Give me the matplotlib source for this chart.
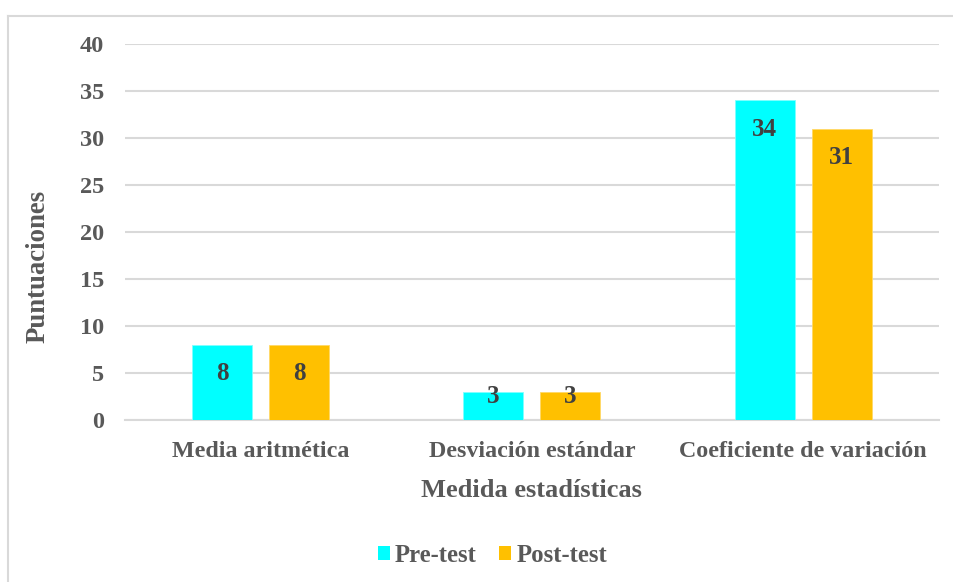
import matplotlib
matplotlib.use("Agg")
import matplotlib.pyplot as plt
import numpy as np
from matplotlib.patches import Patch
from matplotlib.lines import Line2D

categories = ["Media aritmética", "Desviación estándar", "Coeficiente de variación"]
pre_test = [8, 3, 34]
post_test = [8, 3, 31]
series_names = ["Pre-test", "Post-test"]
y_ticks = [0, 5, 10, 15, 20, 25, 30, 35, 40]

CYAN = "#00FFFF"
ORANGE = "#FFC000"
TEXT = "#595959"
LABEL = "#404040"
GRID = "#D9D9D9"

plt.rcParams["font.family"] = ["Liberation Serif", "DejaVu Serif"]
plt.rcParams["font.weight"] = "bold"

fig = plt.figure(figsize=(9.54, 5.82), dpi=100)
ax = fig.add_axes([0.131, 0.2784, 0.853, 0.646])

x = np.arange(len(categories))
width = 0.221
offset = 0.142

bars_pre = ax.bar(x - offset, pre_test, width, color=CYAN, edgecolor="#7FFFFF",
                  linewidth=0.6, zorder=3)
bars_post = ax.bar(x + offset, post_test, width, color=ORANGE, edgecolor="#FFD966",
                   linewidth=0.6, zorder=3)

# value labels at the inside end of each bar, kept above the baseline for short bars
for bars, vals in ((bars_pre, pre_test), (bars_post, post_test)):
    for b, v in zip(bars, vals):
        ypos = max(v - 3.1, 2.5)
        ax.text(b.get_x() + b.get_width() / 2, ypos, f"{v}", ha="center", va="center",
                fontsize=18, fontweight="bold", color=LABEL, zorder=4)

ax.set_ylim(0, 40)
ax.set_xlim(-0.5, len(categories) - 0.5)
ax.set_yticks(y_ticks)
ax.set_yticklabels([str(t) for t in y_ticks])
ax.set_xticks(x)
ax.set_xticklabels(categories)
ax.yaxis.grid(True, color=GRID, linewidth=1.5, zorder=0)
ax.set_axisbelow(True)
for s in ("top", "right", "left"):
    ax.spines[s].set_visible(False)
ax.spines["bottom"].set_color(GRID)
ax.spines["bottom"].set_linewidth(1.5)
ax.tick_params(axis="both", length=0, labelcolor=TEXT)
ax.tick_params(axis="y", pad=15, labelsize=17.5)
ax.tick_params(axis="x", pad=15.5, labelsize=17.3)
for lbl in ax.get_xticklabels() + ax.get_yticklabels():
    lbl.set_fontweight("bold")

ax.set_xlabel("Medida estadísticas", fontsize=19, fontweight="bold", color=TEXT, labelpad=12)
fig.text(0.040, 0.543, "Puntuaciones", rotation=90, ha="center", va="center",
         fontsize=19.3, fontweight="bold", color=TEXT)

handles = [Patch(facecolor=CYAN, edgecolor="none"), Patch(facecolor=ORANGE, edgecolor="none")]
fig.legend(handles, series_names, loc="center", bbox_to_anchor=(0.516, 0.046), ncol=2,
           frameon=False, handlelength=0.5, handleheight=0.5,
           handletextpad=0.2, columnspacing=0.9, labelcolor=TEXT,
           prop={"weight": "bold", "size": 17.8})

# chart-area border: top and left edges
bx, by = 8 / 954, 1 - 16 / 582
fig.add_artist(Line2D([bx, 1.0], [by, by], transform=fig.transFigure, color=GRID, linewidth=1.5))
fig.add_artist(Line2D([bx, bx], [0.0, by], transform=fig.transFigure, color=GRID, linewidth=1.5))

fig.savefig("out.png", dpi=100, facecolor="white")
